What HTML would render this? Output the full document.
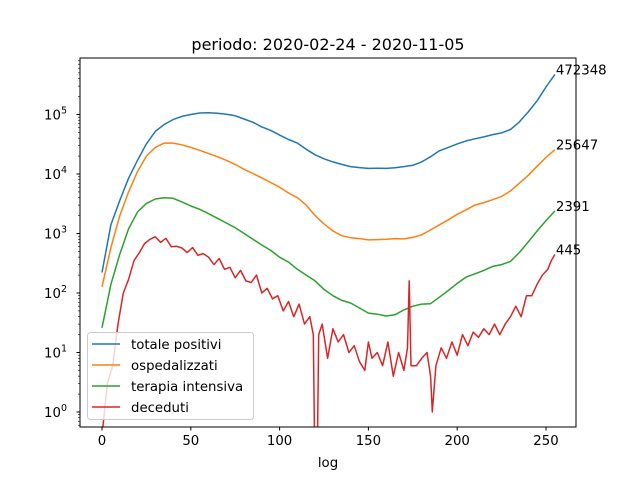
<!DOCTYPE html>
<html><head><meta charset="utf-8"><style>
body{margin:0;background:#fff;}
svg{display:block;font-family:"DejaVu Sans","Liberation Sans",sans-serif;}
</style></head><body>
<svg id="chart" width="640" height="480">
<rect width="640" height="480" fill="#fff"/>
<text x="328" y="50" font-size="16" text-anchor="middle">periodo: 2020-02-24 - 2020-11-05</text>
<defs><clipPath id="clip"><rect x="80" y="58" width="496" height="369"/></clipPath></defs>
<g id="series" clip-path="url(#clip)"></g>
<g id="axes"></g>
<rect x="80" y="58" width="496" height="369" fill="none" stroke="#000" stroke-width="1"/>
<text x="328" y="467" font-size="13.3" text-anchor="middle">log</text>
<g id="legend">
<rect x="87.5" y="332.5" width="166" height="87" rx="3" fill="#fff" fill-opacity="0.8" stroke="#ccc"/>
</g>
</svg>
<script>
const days5 = [0,5,10,15,20,25,30,35,40,45,50,55,60,65,70,75,80,85,90,95,100,105,110,115,120,125,130,135,140,145,150,155,160,165,170,175,180,185,190,195,200,205,210,215,220,225,230,235,240,245,250,255];
const totalePositivi = [221,1400,3600,8500,17000,32000,52000,68000,82000,93000,100000,106000,107000,105000,101000,95000,84000,74000,62000,54000,45000,38000,33000,26000,21000,18000,16000,14500,13300,12800,12400,12500,12400,12700,13300,14000,16000,19500,24500,28000,32000,36000,39000,42000,46000,49000,56000,75000,110000,170000,290000,472348];
const ospedalizzati = [127,580,2000,5000,11000,20000,28000,33000,33000,31000,28000,25000,22000,19500,17000,14500,12000,10200,8600,7200,6000,4800,4000,3000,2000,1450,1100,920,850,820,780,790,800,820,810,860,950,1150,1400,1700,2100,2500,3000,3300,3700,4200,5200,7000,9500,13500,19000,25647];
const terapiaIntensiva = [26,140,450,1200,2300,3200,3800,4000,3900,3400,2900,2550,2150,1800,1500,1250,1000,800,640,520,400,330,250,200,160,115,90,75,68,56,46,44,41,43,52,60,65,66,85,110,145,185,210,240,280,300,340,480,720,1100,1650,2391];
const decedutiDays = [0,3,6,9,12,15,18,21,24,27,30,33,36,39,42,45,48,51,54,57,60,63,66,69,72,75,78,81,84,87,90,93,96,99,102,105,108,111,114,117,119,120,121,122,124,127,130,133,136,139,142,145,148,150,152,155,158,161,164,167,170,172,173,174,177,180,183,185,186,188,191,194,197,200,203,206,209,212,215,218,221,224,227,230,233,236,239,242,245,248,251,253,255];
const deceduti = [0.4,3,6,30,100,170,350,475,680,800,880,710,830,600,610,570,480,580,430,460,400,300,380,250,270,180,240,160,150,200,100,120,80,90,50,72,40,65,30,40,20,0.05,0.05,20,30,8,25,15,20,10,13,7,5,15,8,10,6,15,4,10,5,12,160,6,6,8,10,4,1,6,12,8,15,9,20,13,22,18,25,20,30,20,30,40,60,40,90,90,140,200,250,350,445];
const endLabels = ["472348","25647","2391","445"];
const seriesNames = ["totale positivi","ospedalizzati","terapia intensiva","deceduti"];
const colors = ["#1f77b4","#ff7f0e","#2ca02c","#d62728"];
const xTicks = [0,50,100,150,200,250];
const yTickExp = [0,1,2,3,4,5];

const NS="http://www.w3.org/2000/svg";
const X = d => 102 + d*1.776;
const Y = v => 412 - Math.log10(v)*59.5;
function mk(tag, attrs, parent){const e=document.createElementNS(NS,tag);for(const k in attrs)e.setAttribute(k,attrs[k]);parent.appendChild(e);return e;}
const sg=document.getElementById('series'), ag=document.getElementById('axes'), lg=document.getElementById('legend');
const all=[[days5,totalePositivi],[days5,ospedalizzati],[days5,terapiaIntensiva],[decedutiDays,deceduti]];
all.forEach((s,i)=>{
  const pts=s[0].map((d,j)=>X(d).toFixed(1)+','+Y(Math.max(s[1][j],0.01)).toFixed(1)).join(' ');
  const p=mk('polyline',{points:pts,fill:'none',stroke:colors[i],'stroke-width':1.5,'stroke-linejoin':'round'},sg);
  
  
  const last=s[1][s[1].length-1];
  const t=mk('text',{x:X(s[0][s[0].length-1])+1,y:Y(last),'font-size':13.3},ag);
  t.textContent=endLabels[i];
  
  
});
xTicks.forEach(v=>{
  mk('line',{x1:X(v),x2:X(v),y1:427,y2:430.5,stroke:'#000'},ag);
  const t=mk('text',{x:X(v),y:445,'font-size':13.3,'text-anchor':'middle'},ag);
  t.textContent=v;
  
  
});
yTickExp.forEach(e=>{
  const y=Y(Math.pow(10,e));
  mk('line',{x1:76.5,x2:80,y1:y,y2:y,stroke:'#000'},ag);
  for(let m=2;m<10;m++){const ym=Y(m*Math.pow(10,e));if(ym>58)mk('line',{x1:78,x2:80,y1:ym,y2:ym,stroke:'#000','stroke-width':0.6},ag);}
  const t=mk('text',{x:67,y:y+5,'font-size':13.3,'text-anchor':'end'},ag);
  t.textContent='10';
  const s=mk('tspan',{dy:-6,'font-size':9.5},t);s.textContent=e;
  
  
});
for(let m=6;m<10;m++){const ym=Y(m*0.1);if(ym<427)mk('line',{x1:78,x2:80,y1:ym,y2:ym,stroke:'#000','stroke-width':0.6},ag);}
seriesNames.forEach((n,i)=>{
  const y=344+i*21;
  const g=mk('g',{},lg);
  
  
  mk('line',{x1:92,x2:120,y1:y,y2:y,stroke:colors[i],'stroke-width':1.5},g);
  const t=mk('text',{x:131,y:y+5,'font-size':13.3},g);t.textContent=n;
});
</script>
</body></html>
